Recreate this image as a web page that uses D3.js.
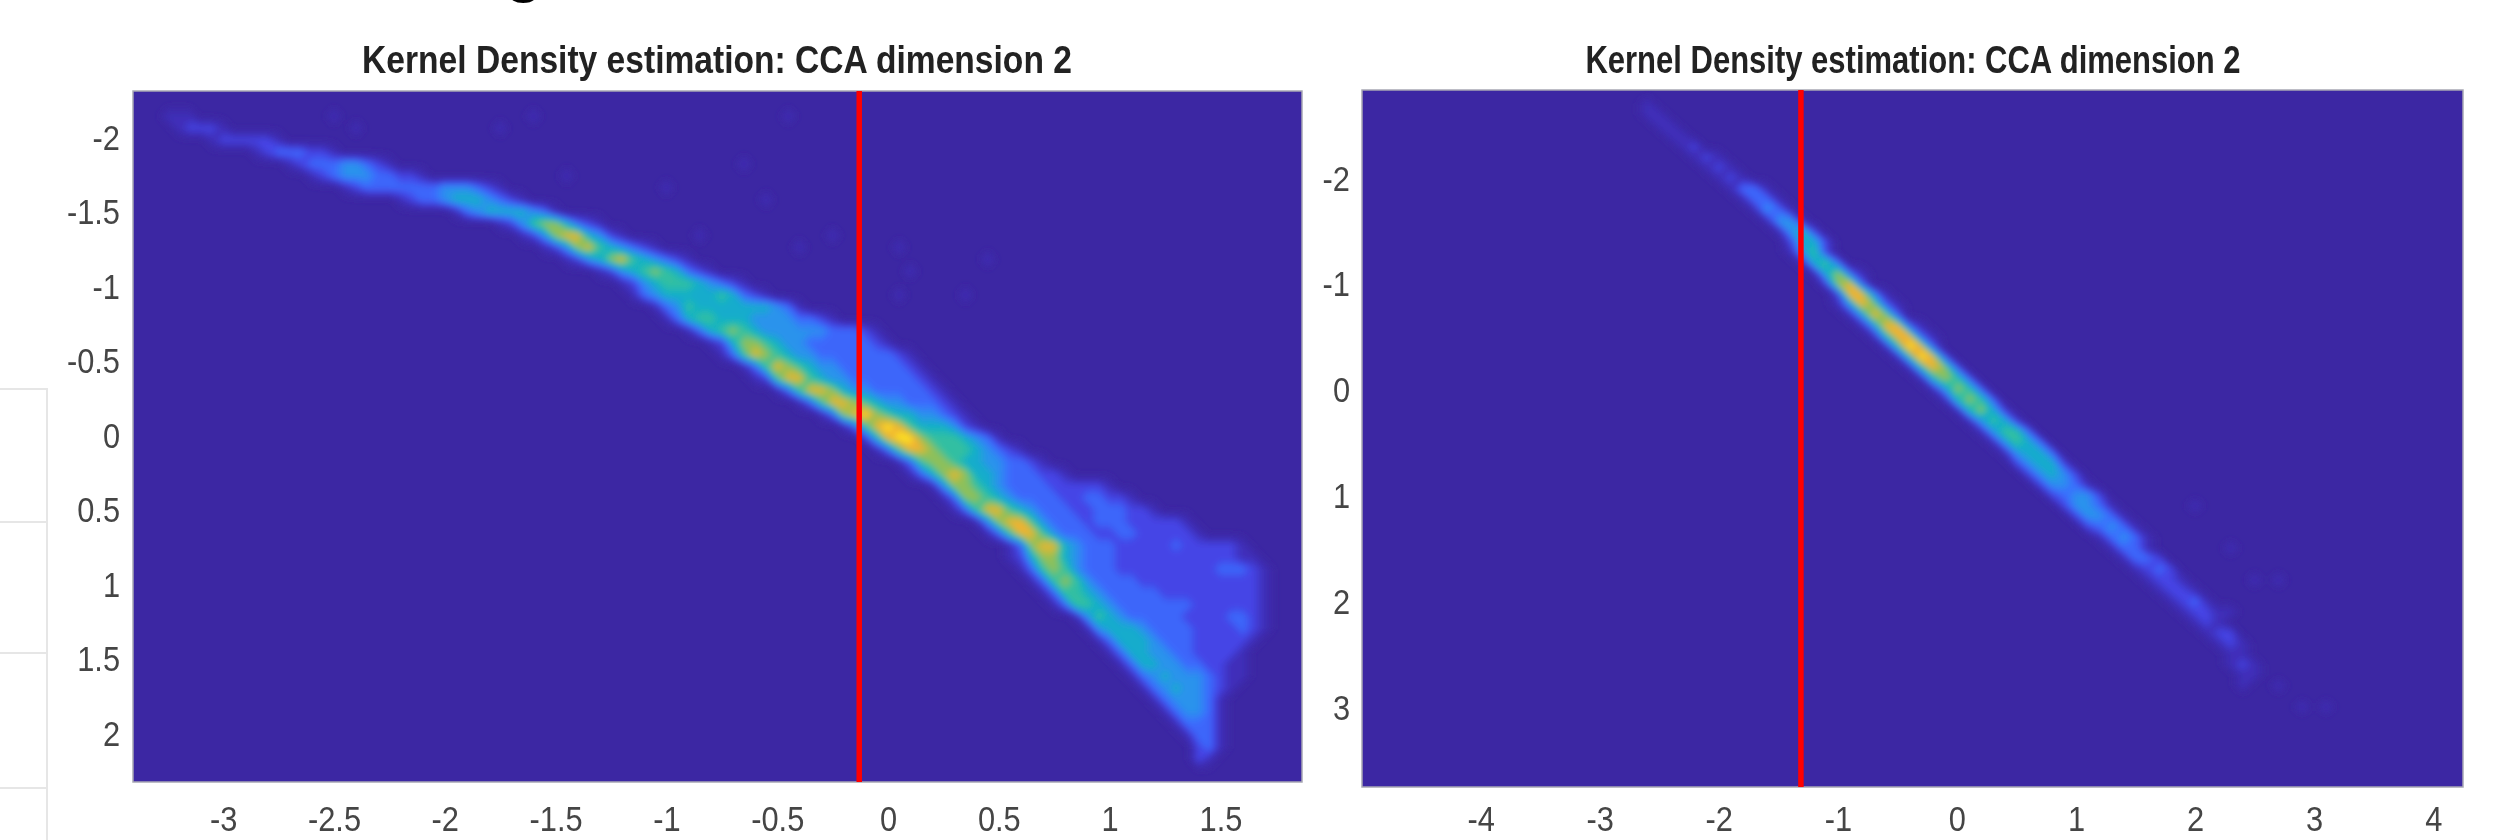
<!DOCTYPE html>
<html>
<head>
<meta charset="utf-8">
<script src="https://cdn.jsdelivr.net/npm/d3@7"></script>
<style>
  html, body { margin: 0; padding: 0; background: #fff; }
  svg { display: block; }
  text { font-family: "Liberation Sans", Arial, sans-serif; }
</style>
</head>
<body>
<svg id="main_svg" width="2517" height="840"></svg>
<script>
var chart_title = "Kernel Density estimation: CCA dimension 2";

// colour of each density level
var level_values = [0, 1, 2, 3, 4, 5, 6, 7, 8, 9];
var level_colors = ["#3c27a3", "#3f2fb9", "#4545e6", "#3a6eff", "#2a93ec", "#11b2c4", "#3cc29a", "#a3bf4a", "#f0b332", "#fff01f"];

var left_x_ticks = [-3, -2.5, -2, -1.5, -1, -0.5, 0, 0.5, 1, 1.5];
var left_y_ticks = [-2, -1.5, -1, -0.5, 0, 0.5, 1, 1.5, 2];
var right_x_ticks = [-4, -3, -2, -1, 0, 1, 2, 3, 4];
var right_y_ticks = [-2, -1, 0, 1, 2, 3];

var left_x_domain = [-3.407, 1.868];
var left_y_domain = [-2.31, 2.33];
var right_x_domain = [-4.996, 4.25];
var right_y_domain = [-2.83, 3.757];

var left_cut = -0.13;
var right_cut = -1.31;

// density grids, sparse: [row, first column, one digit per cell]
var left_grid = {x0: -3.4, dx: 0.05, y0: -2.3, dy: 0.08, nx: 108, ny: 58};
var left_rows = [
  [2, 3, "111"], [2, 18, "1"], [2, 36, "1"], [2, 59, "1"],
  [3, 4, "12221"], [3, 20, "1"], [3, 33, "1"],
  [4, 7, "1222221"],
  [5, 11, "12333221"],
  [6, 14, "1233344321"], [6, 55, "1"],
  [7, 16, "12344433221"], [7, 39, "1"],
  [8, 19, "123333333444321"], [8, 48, "1"],
  [9, 24, "123345554321"], [9, 57, "1"],
  [10, 29, "1345555431"],
  [11, 33, "1246775321"],
  [12, 35, "1247885421"], [12, 51, "1"], [12, 63, "1"],
  [13, 37, "12478654321"], [13, 60, "1"], [13, 69, "1"],
  [14, 39, "124578654321"], [14, 77, "1"],
  [15, 42, "12456765321"], [15, 70, "1"],
  [16, 44, "124566654321"],
  [17, 45, "1345555565321"], [17, 69, "1"], [17, 75, "1"],
  [18, 47, "13465555555431"],
  [19, 48, "1356655544443321"],
  [20, 50, "135676544444433321"],
  [21, 52, "12577654433333321"],
  [22, 53, "136876544333333321"],
  [23, 55, "13687654433333321"],
  [24, 56, "12688654433333321"],
  [25, 58, "1368875443333321"],
  [26, 60, "136887654433321"],
  [27, 62, "13789765544321"],
  [28, 64, "1368986555421"],
  [29, 66, "2589976665431"],
  [30, 67, "13688766654321"],
  [31, 69, "13677655443321"],
  [32, 70, "135787554333221"],
  [33, 72, "14776543333222221"],
  [34, 73, "137765433332233221"],
  [35, 74, "1368865433322333221"],
  [36, 76, "14788643332333222221"],
  [37, 77, "13688643332233222221"],
  [38, 79, "1378854333222223222221"],
  [39, 79, "12577543332222222222211"],
  [40, 80, "13676433322222222233321"],
  [41, 81, "1367643333222222222221"],
  [42, 82, "136654333332222222221"],
  [43, 83, "13665433333332222221"],
  [44, 85, "146543333322223321"],
  [45, 86, "14555433332222321"],
  [46, 87, "135554333222221"],
  [47, 88, "1355443322221"],
  [48, 89, "135544332211"],
  [49, 90, "13454443211"],
  [50, 91, "134544321"],
  [51, 92, "1344431"],
  [52, 93, "134431"],
  [53, 94, "13331"],
  [54, 95, "1331"],
  [55, 96, "231"],
  [56, 96, "21"]
];

var right_grid = {x0: -5, dx: 0.1, y0: -2.8, dy: 0.1, nx: 93, ny: 66};
var right_rows = [
  [1, 24, "1"], [2, 24, "11"], [3, 25, "11"], [4, 26, "11"], [5, 27, "12"], [6, 28, "121"],
  [7, 29, "121"], [8, 30, "121"], [9, 31, "1331"], [10, 32, "1331"], [11, 33, "1431"],
  [12, 34, "1441"], [13, 35, "1452"], [14, 36, "2552"], [15, 36, "1462"], [16, 37, "1563"],
  [17, 38, "15731"], [18, 39, "2783"], [19, 40, "28841"], [20, 40, "148731"], [21, 41, "14873"],
  [22, 42, "148831"], [23, 43, "158831"], [24, 44, "15983"], [25, 45, "15983"], [26, 46, "15873"],
  [27, 47, "15763"], [28, 48, "14763"], [29, 49, "15763"], [30, 50, "15752"], [31, 51, "14652"],
  [32, 52, "14663"], [33, 53, "14653"], [34, 54, "14553"], [35, 55, "24552"], [36, 56, "24542"],
  [37, 57, "24431"], [38, 58, "23442"], [39, 59, "24431"], [39, 70, "1"], [40, 60, "24431"],
  [41, 61, "23431"], [42, 62, "13431"], [43, 63, "1332"], [43, 66, "1"], [43, 73, "1"],
  [44, 64, "1332"], [45, 65, "1232"], [46, 66, "1221"], [46, 75, "1"], [46, 77, "1"],
  [47, 67, "1221"], [48, 68, "1231"], [49, 69, "1221"], [49, 73, "1"], [50, 70, "121"],
  [51, 71, "122"], [52, 72, "121"], [53, 73, "11"], [54, 73, "121"], [55, 74, "11"],
  [56, 74, "1"], [56, 77, "1"], [58, 79, "1"], [58, 81, "1"]
];

// stray bits of the page behind the figure
var table_rule_ys = [389, 522, 653, 788];

var svg = d3.select("#main_svg");

var defs = svg.append("defs");
defs.append("filter").attr("id", "soft")
    .attr("x", "-10%").attr("y", "-30%").attr("width", "120%").attr("height", "160%")
    .append("feGaussianBlur").attr("stdDeviation", 0.7);
defs.append("filter").attr("id", "density_blur")
    .attr("filterUnits", "userSpaceOnUse")
    .attr("x", 0).attr("y", 0).attr("width", 2517).attr("height", 840)
    .append("feGaussianBlur").attr("stdDeviation", 3);

var color = d3.scaleLinear().domain(level_values).range(level_colors);

//-----------------------------------------------------------------------------
function grid_values(grid, rows) {
    var values = new Array(grid.nx * grid.ny).fill(0);
    rows.forEach(function(row) {
        row[2].split("").forEach(function(ch, i) {
            values[row[0] * grid.nx + row[1] + i] = +ch;
        });
    });
    return values;
}

function draw_panel(opt) {
    var x = d3.scaleLinear().domain(opt.x_domain).range([opt.left, opt.right]);
    var y = d3.scaleLinear().domain(opt.y_domain).range([opt.top, opt.bottom]);
    var grid = opt.grid;

    var g = svg.append("g");
    var clip_id = "clip_" + opt.name;
    defs.append("clipPath").attr("id", clip_id).append("rect")
        .attr("x", opt.left).attr("y", opt.top)
        .attr("width", opt.right - opt.left).attr("height", opt.bottom - opt.top);

    g.append("rect")
        .attr("x", opt.left).attr("y", opt.top)
        .attr("width", opt.right - opt.left).attr("height", opt.bottom - opt.top)
        .attr("fill", level_colors[0])
        .attr("stroke", "#a8a8b4").attr("stroke-width", 1.5);

    // contour bands give the smooth look of the density image
    var contours = d3.contours()
        .size([grid.nx, grid.ny])
        .thresholds(d3.range(0.2, 9.01, 0.2))(grid_values(grid, opt.rows));

    var path = d3.geoPath(d3.geoTransform({
        point: function(px, py) {
            this.stream.point(x(grid.x0 + grid.dx * (px - 0.5)), y(grid.y0 + grid.dy * (py - 0.5)));
        }
    }));

    g.append("g").attr("clip-path", "url(#" + clip_id + ")")
        .append("g").attr("filter", "url(#density_blur)")
        .selectAll("path")
        .data(contours)
        .enter().append("path")
        .attr("d", path)
        .attr("fill", function(d) { return color(d.value); });

    g.append("line")
        .attr("x1", x(opt.cut)).attr("x2", x(opt.cut))
        .attr("y1", opt.top).attr("y2", opt.bottom)
        .attr("stroke", "#ff0000").attr("stroke-width", 5.5);

    var x_axis = g.append("g")
        .attr("transform", "translate(0," + (opt.bottom + opt.x_pad) + ")")
        .call(d3.axisBottom(x).tickValues(opt.x_ticks).tickSize(0).tickPadding(0).tickFormat(String));
    var y_axis = g.append("g")
        .attr("transform", "translate(" + opt.left + ",0)")
        .call(d3.axisLeft(y).tickValues(opt.y_ticks).tickSize(0).tickPadding(0).tickFormat(String));
    x_axis.select(".domain").remove();
    y_axis.select(".domain").remove();

    // the labels in the picture are stretched upward, so squeeze them sideways
    var squeeze = 0.88;
    x_axis.selectAll("text")
        .attr("font-size", 35).attr("fill", "#454545").attr("dy", "0.35em").attr("y", 0).attr("x", 0)
        .attr("filter", "url(#soft)")
        .attr("transform", "scale(" + squeeze + ",1)");
    y_axis.selectAll("text")
        .attr("font-size", 35).attr("fill", "#454545").attr("dy", "0.35em")
        .attr("x", -opt.y_pad / squeeze)
        .attr("filter", "url(#soft)")
        .attr("transform", "scale(" + squeeze + ",1)");

    svg.append("text")
        .attr("transform", "translate(" + opt.title_x + ",73) scale(" + opt.title_squeeze + ",1)")
        .attr("text-anchor", "middle")
        .attr("font-size", 38).attr("font-weight", "bold").attr("fill", "#222")
        .attr("filter", "url(#soft)")
        .text(chart_title);
}

//-----------------------------------------------------------------------------
// bits of the surrounding page
svg.selectAll(".table-rule")
    .data(table_rule_ys)
    .enter().append("line")
    .attr("class", "table-rule")
    .attr("x1", 0).attr("x2", 47)
    .attr("y1", function(d) { return d; }).attr("y2", function(d) { return d; })
    .attr("stroke", "#e6e6e6").attr("stroke-width", 2);
svg.append("line")
    .attr("x1", 47).attr("x2", 47).attr("y1", 388).attr("y2", 840)
    .attr("stroke", "#e6e6e6").attr("stroke-width", 2);

// descender of a heading cut off by the top of the screenshot
svg.append("text")
    .attr("x", 524).attr("y", -10)
    .attr("text-anchor", "middle")
    .attr("font-size", 62).attr("font-weight", "bold").attr("fill", "#000")
    .text("g");

draw_panel({
    name: "left", left: 133, right: 1302, top: 91, bottom: 782,
    x_domain: left_x_domain, y_domain: left_y_domain,
    x_ticks: left_x_ticks, y_ticks: left_y_ticks,
    grid: left_grid, rows: left_rows, cut: left_cut,
    x_pad: 37, y_pad: 13, title_x: 717, title_squeeze: 0.884
});

draw_panel({
    name: "right", left: 1362, right: 2463, top: 90, bottom: 787,
    x_domain: right_x_domain, y_domain: right_y_domain,
    x_ticks: right_x_ticks, y_ticks: right_y_ticks,
    grid: right_grid, rows: right_rows, cut: right_cut,
    x_pad: 32, y_pad: 12, title_x: 1913, title_squeeze: 0.816
});
</script>
</body>
</html>
